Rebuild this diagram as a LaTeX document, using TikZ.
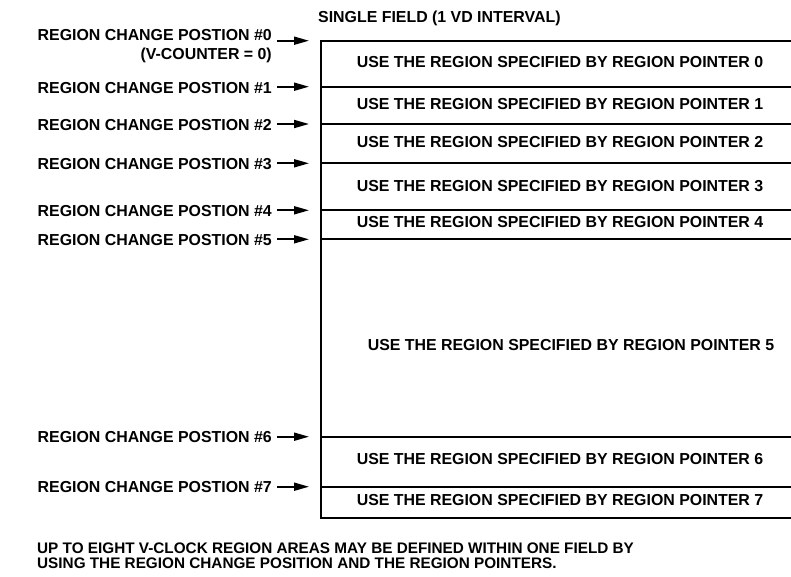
\documentclass[tikz,border=0pt]{standalone}
\usepackage{fontspec}
\setmainfont{Liberation Sans}
\usetikzlibrary{arrows.meta}
\begin{document}
\begin{tikzpicture}[x=1pt,y=-1pt,
  lbl/.style={font=\bfseries\fontsize{15.9}{19}\selectfont, inner sep=0pt, anchor=base east},
  reg/.style={font=\bfseries\fontsize{15.9}{19}\selectfont, inner sep=0pt, anchor=base},
  note/.style={font=\bfseries\fontsize{15.3}{13}\selectfont, inner sep=0pt, anchor=base west},
  boxline/.style={line width=2.2pt},
  posarrow/.style={line width=1.8pt, -{Triangle[length=15pt,width=8pt]}}]
\useasboundingbox (0,0) rectangle (791,576);

% title
\node[reg, anchor=base west] (title) at (318,22.7) {SINGLE FIELD (1 VD INTERVAL)};

% frame corners and divider ends
\coordinate (tr) at (791,40.7);
\coordinate (tl) at (320.7,40.7);
\coordinate (bl) at (320.7,518);
\coordinate (br) at (791,518);
\draw[boxline] (tr) -- (tl) -- (bl) -- (br);

\foreach \i/\y in {1/86.7,2/124,3/163.3,4/210.3,5/239.3,6/436.7,7/486.7}{
  \coordinate (d\i l) at (320.7,\y);
  \coordinate (d\i r) at (791,\y);
  \draw[boxline] (d\i l) -- (d\i r);
}

% region texts
\node[reg] (r0) at (560,67.7) {USE THE REGION SPECIFIED BY REGION POINTER 0};
\node[reg] (r1) at (560,109.7) {USE THE REGION SPECIFIED BY REGION POINTER 1};
\node[reg] (r2) at (560,147.7) {USE THE REGION SPECIFIED BY REGION POINTER 2};
\node[reg] (r3) at (560,191.7) {USE THE REGION SPECIFIED BY REGION POINTER 3};
\node[reg] (r4) at (560,227.7) {USE THE REGION SPECIFIED BY REGION POINTER 4};
\node[reg] (r5) at (571,350.2) {USE THE REGION SPECIFIED BY REGION POINTER 5};
\node[reg] (r6) at (560,464.7) {USE THE REGION SPECIFIED BY REGION POINTER 6};
\node[reg] (r7) at (560,505.7) {USE THE REGION SPECIFIED BY REGION POINTER 7};

% position labels
\node[lbl] (l0) at (272,40) {REGION CHANGE POSTION \#0};
\node[lbl] (l0b) at (272,59.4) {(V-COUNTER = 0)};
\node[lbl] (l1) at (272,93) {REGION CHANGE POSTION \#1};
\node[lbl] (l2) at (272,130) {REGION CHANGE POSTION \#2};
\node[lbl] (l3) at (272,169) {REGION CHANGE POSTION \#3};
\node[lbl] (l4) at (272,216) {REGION CHANGE POSTION \#4};
\node[lbl] (l5) at (272,245) {REGION CHANGE POSTION \#5};
\node[lbl] (l6) at (272,442.4) {REGION CHANGE POSTION \#6};
\node[lbl] (l7) at (272,492.4) {REGION CHANGE POSTION \#7};

% arrows
\foreach \i/\y in {0/40.7,1/86.7,2/124,3/163.3,4/210.3,5/239.3,6/436.7,7/486.7}{
  \coordinate (a\i s) at (277,\y);
  \coordinate (a\i e) at (309,\y);
  \draw[posarrow] (a\i s) -- (a\i e);
}

% note
\node[note] (n1) at (37,553.5) {UP TO EIGHT V-CLOCK REGION AREAS MAY BE DEFINED WITHIN ONE FIELD BY};
\node[note] (n2) at (37,568) {USING THE REGION CHANGE POSITION AND THE REGION POINTERS.};
\end{tikzpicture}
\end{document}
